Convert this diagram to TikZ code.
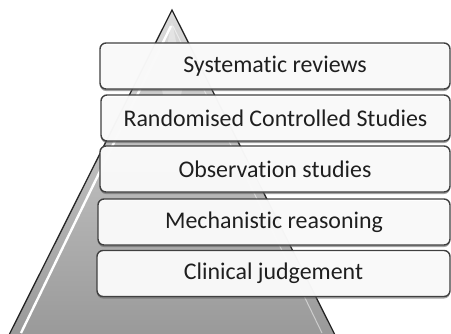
\documentclass[tikz,border=0pt]{standalone}
\usepackage{fontspec}
\setmainfont{Carlito}[Ligatures=NoCommon, RawFeature={-liga;-clig;-calt;-dlig}]
\usetikzlibrary{shadows}
\begin{document}
\begin{tikzpicture}[x=1bp,y=-1bp,
  level/.style={draw=black!75, line width=1.4bp, rounded corners=6bp,
    fill=white, fill opacity=0.94, text opacity=1, text=black!88,
    inner sep=0pt, minimum height=46bp,
    font=\fontsize{24}{26}\selectfont,
    drop shadow={shadow xshift=0bp, shadow yshift=-2bp, opacity=0.6, fill=black!60}},
  tri/.style={draw=black!85, line width=1.3bp}]
\useasboundingbox (0,0) rectangle (451,333);
\begin{scope}
\clip (0,0) rectangle (451,333);
% pyramid
\coordinate (apex) at (172,10);
\coordinate (bl) at (8,337);
\coordinate (br) at (336,337);
\shade[top color=black!14, bottom color=black!40] (apex) -- (bl) -- (br) -- cycle;
\fill[white, opacity=0.35] (172,22) -- (160,80) -- (172,140) -- (184,80) -- cycle;
\draw[white, line width=2.4bp] (171,26) -- (21,333);
\draw[white, line width=1bp, opacity=0.5] (173,26) -- (322,333);
\draw[tri] (bl) -- (apex) -- (br);
% levels
\node[level, minimum width=350bp] (l1) at (275,66) {Systematic reviews};
\node[level, minimum width=349bp] (l2) at (275.5,118) {Randomised Controlled Studies};
\node[level, minimum width=350bp] (l3) at (275,169) {Observation studies};
\node[level, minimum width=352bp] (l4) at (274,222) {Mechanistic reasoning};
\node[level, minimum width=353bp] (l5) at (273.5,273.5) {Clinical judgement};
\end{scope}
\end{tikzpicture}
\end{document}
